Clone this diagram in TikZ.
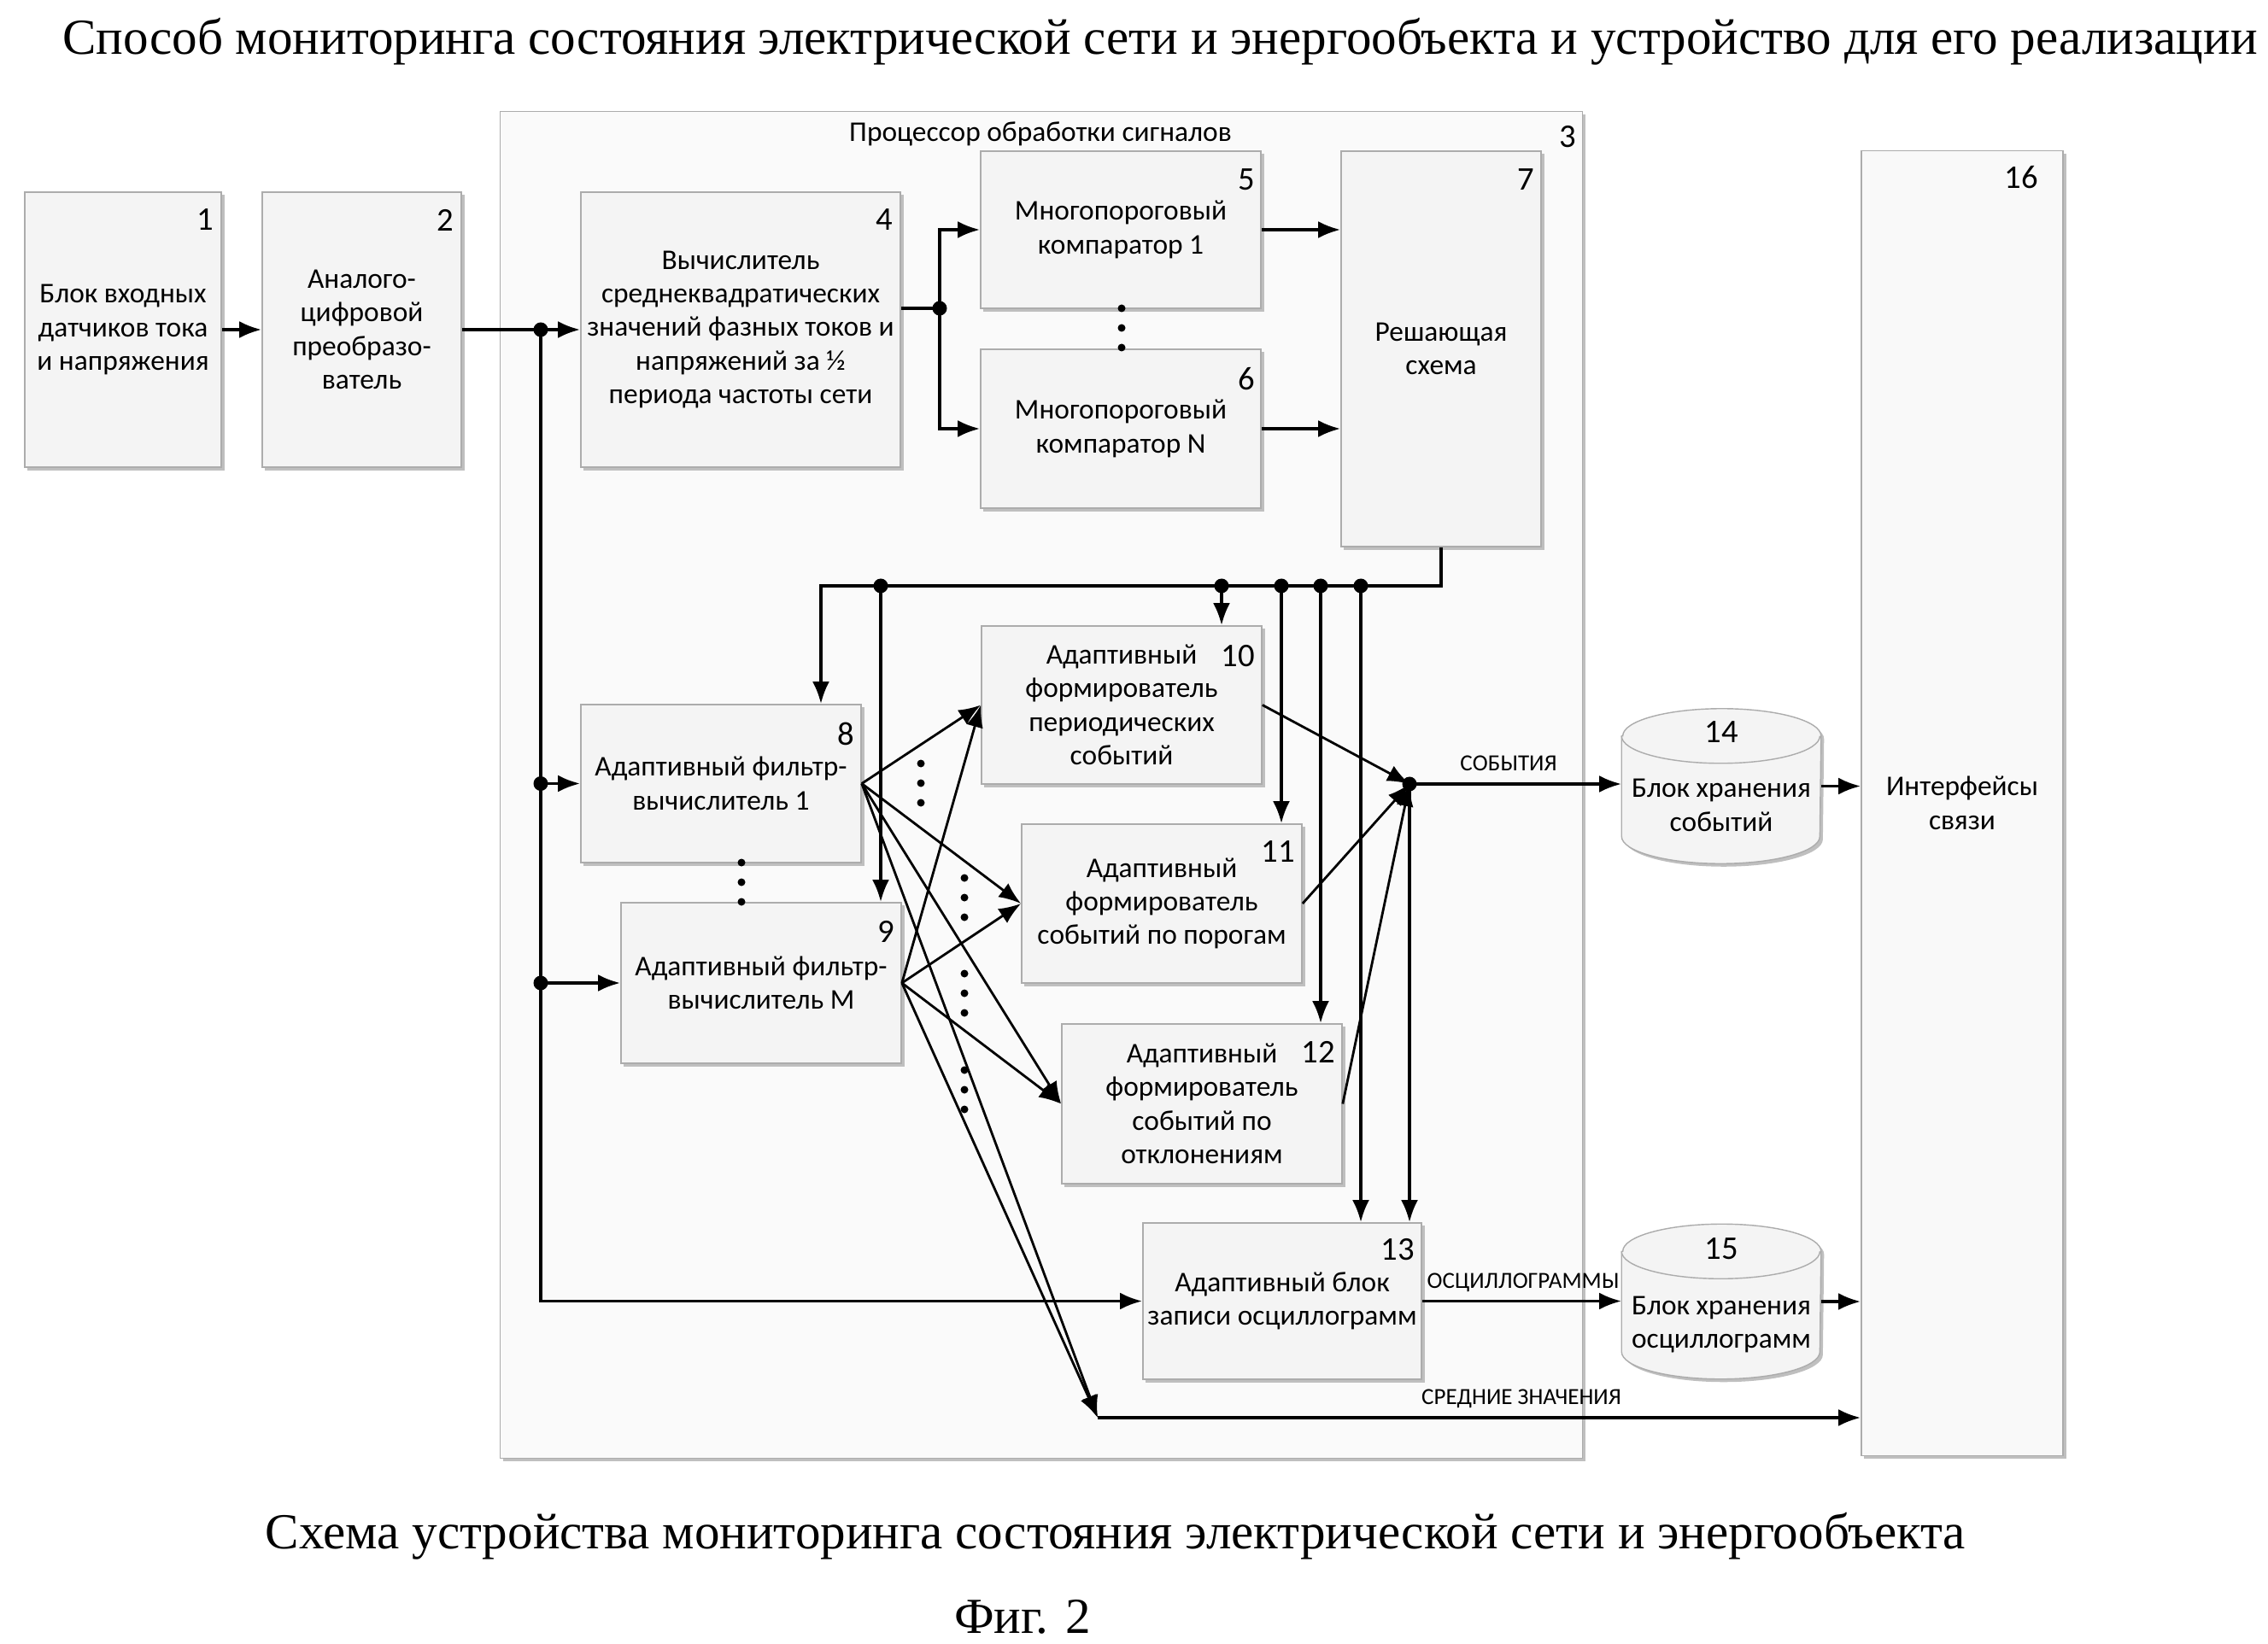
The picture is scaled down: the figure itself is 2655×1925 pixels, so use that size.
\documentclass[tikz,border=0pt]{standalone}
\usepackage{fontspec}
\setmainfont{Liberation Serif}
\newfontfamily\calfont{Carlito}
\usetikzlibrary{arrows.meta,shadows,calc}
\begin{document}
\begin{tikzpicture}[x=0.01cm,y=-0.01cm,
  shad/.style={drop shadow={shadow xshift=0.035cm,shadow yshift=-0.035cm,fill=gray!50,opacity=1}},
  blk/.style={draw=gray!65, line width=0.4pt, fill=gray!9, align=center, inner sep=0pt,
    font=\calfont\fontsize{9.5}{11.2}\selectfont, shad, minimum width=3.28cm, minimum height=1.86cm},
  proc/.style={draw=gray!65, line width=0.4pt, fill=gray!4, inner sep=0pt, shad},
  num/.style={anchor=north east, inner sep=0pt, font=\calfont\fontsize{11}{12}\selectfont},
  txt/.style={align=center, inner sep=0pt, font=\calfont\fontsize{9.5}{11.2}\selectfont},
  lbl/.style={inner sep=0pt, font=\calfont\fontsize{7.7}{9}\selectfont},
  arr/.style={line width=1.1pt, -{Latex[length=0.26cm,width=0.2cm]}},
  farr/.style={line width=0.8pt, -{Latex[length=0.26cm,width=0.2cm]}},
  ln/.style={line width=1.1pt},
  jdot/.style={circle, fill=black, inner sep=0pt, minimum size=0.17cm},
  cylfill/.style={draw=gray!65, line width=0.4pt, fill=gray!9, shad},
  cylline/.style={draw=gray!65, line width=0.4pt},
  ghost/.style={inner sep=0pt, minimum width=2.32cm, minimum height=1.8cm},
  ttl/.style={font=\fontsize{16.8}{19}\selectfont, inner sep=0pt},
]
\useasboundingbox (0,0) rectangle (2655,1925);

% titles
\node[ttl] (title) at (1358,49)
  {Способ мониторинга состояния электрической сети и энергообъекта и устройство для его реализации};
\node[ttl] (caption) at (1306,1799)
  {Схема устройства мониторинга состояния электрической сети и энергообъекта};
\node[ttl] (fig) at (1197,1893) {Фиг. 2};

% processor
\node[proc, minimum width=12.66cm, minimum height=15.76cm] (b3) at (1219,919) {};
\node[txt] (ptitle) at (1218,157) {Процессор обработки сигналов};
\node[num] at ([xshift=-0.07cm,yshift=-0.17cm]b3.north east) {3};

% boxes outside
\node[blk, minimum width=2.30cm, minimum height=3.22cm] (b1) at (144,386) {Блок входных\\датчиков тока\\и напряжения};
\node[num] at ([xshift=-0.09cm,yshift=-0.2cm]b1.north east) {1};
\node[blk, minimum width=2.33cm, minimum height=3.22cm] (b2) at (423.5,386) {Аналого-\\цифровой\\преобразо-\\ватель};
\node[num] at ([xshift=-0.09cm,yshift=-0.2cm]b2.north east) {2};
\node[blk, fill=gray!5, minimum width=2.36cm, minimum height=15.27cm] (b16) at (2297,940.5) {Интерфейсы\\связи};
\node[num] at ([xshift=-0.29cm,yshift=-0.18cm]b16.north east) {16};

% boxes inside
\node[blk, minimum width=3.74cm, minimum height=3.22cm] (b4) at (867,386) {Вычислитель\\среднеквадратических\\значений фазных токов и\\напряжений за ½\\периода частоты сети};
\node[num] at ([xshift=-0.09cm,yshift=-0.2cm]b4.north east) {4};
\node[blk, minimum height=1.84cm] (b5) at (1312,269) {Многопороговый\\компаратор 1};
\node[num] at ([xshift=-0.07cm,yshift=-0.21cm]b5.north east) {5};
\node[blk] (b6) at (1312,502) {Многопороговый\\компаратор N};
\node[num] at ([xshift=-0.07cm,yshift=-0.21cm]b6.north east) {6};
\node[blk, minimum width=2.34cm, minimum height=4.63cm] (b7) at (1687,408.5) {Решающая\\схема};
\node[num] at ([xshift=-0.08cm,yshift=-0.21cm]b7.north east) {7};
\node[blk, minimum height=1.85cm] (b8) at (844,917.5) {Адаптивный фильтр-\\вычислитель 1};
\node[num] at ([xshift=-0.08cm,yshift=-0.21cm]b8.north east) {8};
\node[blk, minimum height=1.88cm] (b9) at (891,1151) {Адаптивный фильтр-\\вычислитель М};
\node[num] at ([xshift=-0.08cm,yshift=-0.21cm]b9.north east) {9};
\node[blk, minimum height=1.85cm] (b10) at (1313,825.5) {Адаптивный\\формирователь\\периодических\\событий};
\node[num] at ([xshift=-0.08cm,yshift=-0.22cm]b10.north east) {10};
\node[blk] (b11) at (1360,1058) {Адаптивный\\формирователь\\событий по порогам};
\node[num] at ([xshift=-0.08cm,yshift=-0.2cm]b11.north east) {11};
\node[blk, minimum height=1.87cm] (b12) at (1407,1292.5) {Адаптивный\\формирователь\\событий по\\отклонениям};
\node[num] at ([xshift=-0.08cm,yshift=-0.2cm]b12.north east) {12};
\node[blk, minimum width=3.26cm, minimum height=1.83cm] (b13) at (1501,1523.5) {Адаптивный блок\\записи осциллограмм};
\node[num] at ([xshift=-0.08cm,yshift=-0.18cm]b13.north east) {13};

% cylinders
\node[ghost] (c14) at (2015,920.5) {};
\node[ghost] (c15) at (2015,1524) {};
\foreach \c in {c14,c15}{
  \path[cylfill] ([yshift=-0.32cm]\c.north west) -- ([yshift=0.32cm]\c.south west)
     arc[start angle=180,end angle=360,x radius=1.16cm,y radius=0.32cm]
     -- ([yshift=-0.32cm]\c.north east)
     arc[start angle=0,end angle=180,x radius=1.16cm,y radius=0.32cm] -- cycle;
  \draw[cylline] ([yshift=-0.32cm]\c.north west) arc[start angle=180,end angle=360,x radius=1.16cm,y radius=0.32cm];
}
\node[inner sep=0pt, font=\calfont\fontsize{11}{12}\selectfont] (n14) at (2015,857) {14};
\node[txt] (t14) at (2015,943) {Блок хранения\\событий};
\node[inner sep=0pt, font=\calfont\fontsize{11}{12}\selectfont] (n15) at (2015,1462) {15};
\node[txt] (t15) at (2015,1551) {Блок хранения\\осциллограмм};

% 1 -> 2 -> 4
\draw[arr] (b1.east) -- (b2.west);
\node[jdot] (d1) at (633,386) {};
\draw[arr] (b2.east) -- (b4.west);
\draw[arr] (d1.center) |- (b13.west);
\node[jdot] (d8) at (d1 |- b8) {};
\node[jdot] (d9) at (d1 |- b9) {};
\draw[arr] (d8.center) -- (b8.west);
\draw[arr] (d9.center) -- (b9.west);

% 4 -> comparators -> 7
\node[jdot] (d4) at (1100,361) {};
\draw[ln] (b4.east |- d4) -- (d4.center);
\draw[arr] (d4.center) |- (b5.west);
\draw[arr] (d4.center) |- (b6.west);
\draw[arr] (b5.east) -- (b5.east -| b7.west);
\draw[arr] (b6.east) -- (b6.east -| b7.west);

% bus from 7
\coordinate (bus) at (961,686);
\draw[arr] (b7.south) |- (bus) -- (bus |- b8.north);
\node[jdot] (e9) at (1031,686) {};
\node[jdot] (e10) at (1430,686) {};
\node[jdot] (e11) at (1500,686) {};
\node[jdot] (e12) at (1546,686) {};
\node[jdot] (e13) at (1593,686) {};
\draw[arr] (e9.center) -- (e9 |- b9.north);
\draw[arr] (e10.center) -- (e10 |- b10.north);
\draw[arr] (e11.center) -- (e11 |- b11.north);
\draw[arr] (e12.center) -- (e12 |- b12.north);
\draw[arr] (e13.center) -- (e13 |- b13.north);

% fan from filters
\coordinate (B) at (1285,1660);
\foreach \s in {b8,b9}{
  \foreach \t in {b10,b11,b12}{ \draw[farr] (\s.east) -- (\t.west); }
  \draw[farr] (\s.east) -- (B);
}
\draw[arr] (B) -- (B -| b16.west);
\node[lbl] (lavg) at (1781,1638) {СРЕДНИЕ ЗНАЧЕНИЯ};

% events junction
\node[jdot] (J) at (1650,918) {};
\draw[farr] (b10.east) -- (J.center);
\draw[farr] (b11.east) -- (J.center);
\draw[farr] (b12.east) -- (J.center);
\draw[arr] (J.center) -- (J -| c14.west);
\node[lbl] (lev) at (1766,894) {СОБЫТИЯ};
\draw[arr] (J.center) -- (J |- b13.north);
\draw[arr] (b13.east) -- (b13.east -| c15.west);
\node[lbl] (losc) at (1783,1502) {ОСЦИЛЛОГРАММЫ};
\draw[arr] (c14.east) -- (c14.east -| b16.west);
\draw[arr] (c15.east) -- (c15.east -| b16.west);

% ellipsis dots
\foreach \x/\y in {1313/384, 868/1033, 1078/917, 1129/1051, 1129/1163, 1129/1276}{
  \foreach \d in {-23,0,23}{ \fill (\x,\y+\d) circle[radius=0.045cm]; }
}
\end{tikzpicture}
\end{document}
